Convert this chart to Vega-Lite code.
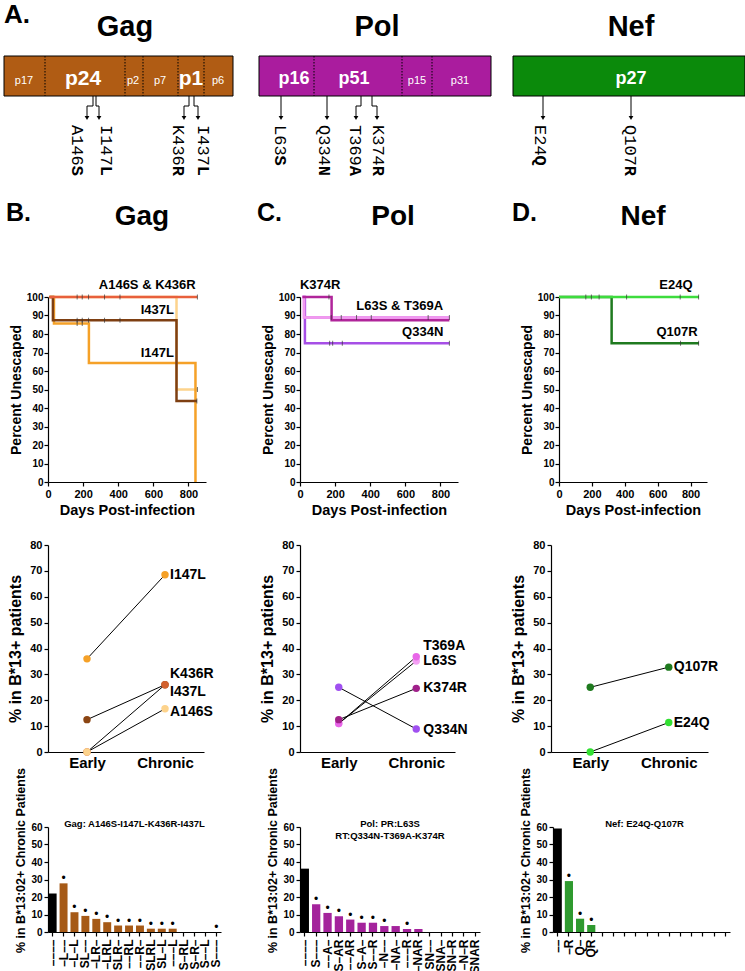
{
"$schema": "https://vega.github.io/schema/vega-lite/v6.json",
"padding": {"left": 3, "top": 0, "right": 0, "bottom": 0},
"config": {
  "view": {"stroke": null},
  "font": "Liberation Sans",
  "axis": {"domainColor": "black", "tickColor": "black", "labelColor": "black", "titleColor": "black", "labelFont": "Liberation Sans", "titleFont": "Liberation Sans", "labelFontWeight": "bold", "titleFontWeight": "bold", "grid": false, "tickSize": 4, "labelPadding": 2, "domainWidth": 1.2, "tickWidth": 1.2, "labelOverlap": false}
},
"datasets": {
  "schem": [{"protein": "Gag", "start": 0, "end": 229}, {"protein": "Pol", "start": 255, "end": 487}, {"protein": "Nef", "start": 509, "end": 741}],
  "divs": [{"pos": 41}, {"pos": 121}, {"pos": 139}, {"pos": 174}, {"pos": 200}, {"pos": 310}, {"pos": 398}, {"pos": 428}],
  "regions": [
    {"protein": "Gag", "region": "p17", "center": 20, "major": false},
    {"protein": "Gag", "region": "p24", "center": 79, "major": true},
    {"protein": "Gag", "region": "p2", "center": 129, "major": false},
    {"protein": "Gag", "region": "p7", "center": 156, "major": false},
    {"protein": "Gag", "region": "p1", "center": 187, "major": true},
    {"protein": "Gag", "region": "p6", "center": 214, "major": false},
    {"protein": "Pol", "region": "p16", "center": 290, "major": true},
    {"protein": "Pol", "region": "p51", "center": 350, "major": true},
    {"protein": "Pol", "region": "p15", "center": 413, "major": false},
    {"protein": "Pol", "region": "p31", "center": 456, "major": false},
    {"protein": "Nef", "region": "p27", "center": 627, "major": true}
  ],
  "headers": [
    {"text": "A.", "x": 0, "kind": "Aletter"},
    {"text": "Gag", "x": 121, "kind": "Aname"},
    {"text": "Pol", "x": 373, "kind": "Aname"},
    {"text": "Nef", "x": 627, "kind": "Aname"},
    {"text": "B.", "x": 2, "kind": "Bletter"},
    {"text": "Gag", "x": 138, "kind": "Bname"},
    {"text": "C.", "x": 253, "kind": "Bletter"},
    {"text": "Pol", "x": 389, "kind": "Bname"},
    {"text": "D.", "x": 508, "kind": "Bletter"},
    {"text": "Nef", "x": 639, "kind": "Bname"}
  ],
  "arrows": [
    {"x1": 89, "x2": 89, "y1": 96, "y2": 106}, {"x1": 89, "x2": 83, "y1": 106, "y2": 106}, {"x1": 83, "x2": 83, "y1": 106, "y2": 116},
    {"x1": 92, "x2": 92, "y1": 96, "y2": 106}, {"x1": 92, "x2": 95, "y1": 106, "y2": 106}, {"x1": 95, "x2": 95, "y1": 106, "y2": 116},
    {"x1": 185, "x2": 185, "y1": 96, "y2": 106}, {"x1": 185, "x2": 180, "y1": 106, "y2": 106}, {"x1": 180, "x2": 180, "y1": 106, "y2": 116},
    {"x1": 190, "x2": 190, "y1": 96, "y2": 106}, {"x1": 190, "x2": 194, "y1": 106, "y2": 106}, {"x1": 194, "x2": 194, "y1": 106, "y2": 116},
    {"x1": 277, "x2": 277, "y1": 96, "y2": 116},
    {"x1": 323, "x2": 323, "y1": 96, "y2": 116},
    {"x1": 357, "x2": 357, "y1": 96, "y2": 106}, {"x1": 357, "x2": 352, "y1": 106, "y2": 106}, {"x1": 352, "x2": 352, "y1": 106, "y2": 116},
    {"x1": 368, "x2": 368, "y1": 96, "y2": 106}, {"x1": 368, "x2": 373, "y1": 106, "y2": 106}, {"x1": 373, "x2": 373, "y1": 106, "y2": 116},
    {"x1": 539, "x2": 539, "y1": 96, "y2": 116},
    {"x1": 627, "x2": 627, "y1": 96, "y2": 116}
  ],
  "tips": [{"x": 83}, {"x": 95}, {"x": 180}, {"x": 194}, {"x": 277}, {"x": 323}, {"x": 352}, {"x": 373}, {"x": 539}, {"x": 627}],
  "mutlab": [
    {"pre": "A146", "suf": "S", "plen": 4, "x": 73},
    {"pre": "I147", "suf": "L", "plen": 4, "x": 102},
    {"pre": "K436", "suf": "R", "plen": 4, "x": 174},
    {"pre": "I437", "suf": "L", "plen": 4, "x": 199},
    {"pre": "L63", "suf": "S", "plen": 3, "x": 276},
    {"pre": "Q334", "suf": "N", "plen": 4, "x": 320},
    {"pre": "T369", "suf": "A", "plen": 4, "x": 351},
    {"pre": "K374", "suf": "R", "plen": 4, "x": 374},
    {"pre": "E24", "suf": "Q", "plen": 3, "x": 536},
    {"pre": "Q107", "suf": "R", "plen": 4, "x": 626}
  ],
  "survGag": [
    {"mut": "A146S", "day": 8, "pct": 100}, {"mut": "A146S", "day": 732, "pct": 50}, {"mut": "A146S", "day": 851, "pct": 50},
    {"mut": "I147L", "day": 8, "pct": 100}, {"mut": "I147L", "day": 34, "pct": 85.7}, {"mut": "I147L", "day": 233, "pct": 64.3}, {"mut": "I147L", "day": 840, "pct": 0},
    {"mut": "I437L", "day": 8, "pct": 100}, {"mut": "I437L", "day": 28, "pct": 87.5}, {"mut": "I437L", "day": 732, "pct": 43.8}, {"mut": "I437L", "day": 848, "pct": 43.8},
    {"mut": "K436R", "day": 8, "pct": 100}, {"mut": "K436R", "day": 851, "pct": 100}
  ],
  "censGag": [
    {"day": 166, "pct": 100}, {"day": 195, "pct": 100}, {"day": 231, "pct": 100}, {"day": 322, "pct": 100}, {"day": 410, "pct": 100}, {"day": 851, "pct": 100},
    {"day": 166, "pct": 87.5}, {"day": 195, "pct": 87.5}, {"day": 231, "pct": 87.5}, {"day": 322, "pct": 87.5}, {"day": 410, "pct": 87.5},
    {"day": 166, "pct": 85.7}, {"day": 195, "pct": 85.7},
    {"day": 851, "pct": 50}, {"day": 848, "pct": 43.8}
  ],
  "annGag": [{"label": "A146S & K436R", "day": 565, "pct": 106.5}, {"label": "I437L", "day": 623, "pct": 93}, {"label": "I147L", "day": 623, "pct": 69.7}],
  "survPol": [
    {"mut": "Q334N", "day": 14, "pct": 100}, {"mut": "Q334N", "day": 28, "pct": 75}, {"mut": "Q334N", "day": 851, "pct": 75},
    {"mut": "T369A", "day": 14, "pct": 100}, {"mut": "T369A", "day": 23, "pct": 88.9}, {"mut": "T369A", "day": 851, "pct": 88.9},
    {"mut": "L63S", "day": 14, "pct": 100}, {"mut": "L63S", "day": 23, "pct": 88.9}, {"mut": "L63S", "day": 851, "pct": 88.9},
    {"mut": "K374R", "day": 14, "pct": 100}, {"mut": "K374R", "day": 180, "pct": 87.5}, {"mut": "K374R", "day": 851, "pct": 87.5}
  ],
  "censPol": [
    {"day": 165, "pct": 100},
    {"day": 178, "pct": 88.9}, {"day": 235, "pct": 88.9}, {"day": 322, "pct": 88.9}, {"day": 406, "pct": 88.9}, {"day": 730, "pct": 88.9}, {"day": 851, "pct": 88.9},
    {"day": 169, "pct": 75}, {"day": 186, "pct": 75}, {"day": 241, "pct": 75}, {"day": 851, "pct": 75}
  ],
  "annPol": [{"label": "K374R", "day": 115, "pct": 106.5}, {"label": "L63S & T369A", "day": 568, "pct": 95}, {"label": "Q334N", "day": 699, "pct": 81}],
  "survNef": [
    {"mut": "Q107R", "day": 0, "pct": 100}, {"mut": "Q107R", "day": 320, "pct": 75}, {"mut": "Q107R", "day": 851, "pct": 75},
    {"mut": "E24Q", "day": 0, "pct": 100}, {"mut": "E24Q", "day": 851, "pct": 100}
  ],
  "censNef": [
    {"day": 163, "pct": 100}, {"day": 197, "pct": 100}, {"day": 244, "pct": 100}, {"day": 411, "pct": 100}, {"day": 737, "pct": 100}, {"day": 849, "pct": 100},
    {"day": 739, "pct": 75}, {"day": 849, "pct": 75}
  ],
  "annNef": [{"label": "E24Q", "day": 711, "pct": 106.5}, {"label": "Q107R", "day": 718, "pct": 81}],
  "dotGag": [
    {"mut": "I147L", "stage": "Early", "pct": 36}, {"mut": "I147L", "stage": "Chronic", "pct": 68.5},
    {"mut": "I437L", "stage": "Early", "pct": 12.5}, {"mut": "I437L", "stage": "Chronic", "pct": 26},
    {"mut": "K436R", "stage": "Early", "pct": 0}, {"mut": "K436R", "stage": "Chronic", "pct": 26},
    {"mut": "A146S", "stage": "Early", "pct": 0}, {"mut": "A146S", "stage": "Chronic", "pct": 16.7}
  ],
  "dotLabGag": [
    {"label": "I147L", "stage": "Chronic", "pct": 68.5}, {"label": "K436R", "stage": "Chronic", "pct": 30},
    {"label": "I437L", "stage": "Chronic", "pct": 23}, {"label": "A146S", "stage": "Chronic", "pct": 15.3}
  ],
  "dotPol": [
    {"mut": "Q334N", "stage": "Early", "pct": 25}, {"mut": "Q334N", "stage": "Chronic", "pct": 8.9},
    {"mut": "L63S", "stage": "Early", "pct": 11}, {"mut": "L63S", "stage": "Chronic", "pct": 35.2},
    {"mut": "T369A", "stage": "Early", "pct": 11}, {"mut": "T369A", "stage": "Chronic", "pct": 36.8},
    {"mut": "K374R", "stage": "Early", "pct": 12.5}, {"mut": "K374R", "stage": "Chronic", "pct": 24.6}
  ],
  "dotLabPol": [
    {"label": "T369A", "stage": "Chronic", "pct": 40.9}, {"label": "L63S", "stage": "Chronic", "pct": 35.3},
    {"label": "K374R", "stage": "Chronic", "pct": 24.7}, {"label": "Q334N", "stage": "Chronic", "pct": 8.5}
  ],
  "dotNef": [
    {"mut": "Q107R", "stage": "Early", "pct": 25}, {"mut": "Q107R", "stage": "Chronic", "pct": 32.8},
    {"mut": "E24Q", "stage": "Early", "pct": 0}, {"mut": "E24Q", "stage": "Chronic", "pct": 11.4}
  ],
  "dotLabNef": [{"label": "Q107R", "stage": "Chronic", "pct": 32.8}, {"label": "E24Q", "stage": "Chronic", "pct": 11.4}],
  "barGag": [
    {"hap": "––––", "pct": 22, "sig": false}, {"hap": "–L––", "pct": 27.8, "sig": true}, {"hap": "–L–L", "pct": 11.3, "sig": true}, {"hap": "SL––", "pct": 9.2, "sig": true},
    {"hap": "–LR–", "pct": 7.5, "sig": true}, {"hap": "–LRL", "pct": 5.6, "sig": true}, {"hap": "SLR–", "pct": 3.7, "sig": true}, {"hap": "––RL", "pct": 3.7, "sig": true},
    {"hap": "––R–", "pct": 3.7, "sig": true}, {"hap": "SLRL", "pct": 1.9, "sig": true}, {"hap": "SL–L", "pct": 1.9, "sig": true}, {"hap": "–––L", "pct": 1.9, "sig": true},
    {"hap": "S–RL", "pct": 0, "sig": false}, {"hap": "S–R–", "pct": 0, "sig": false}, {"hap": "S––L", "pct": 0, "sig": false}, {"hap": "S–––", "pct": 0, "sig": true}
  ],
  "barPol": [
    {"hap": "––––", "pct": 36.2, "sig": false}, {"hap": "S–––", "pct": 15.9, "sig": true}, {"hap": "––A–", "pct": 10.9, "sig": true}, {"hap": "S–AR", "pct": 9.0, "sig": true},
    {"hap": "––AR", "pct": 7.1, "sig": true}, {"hap": "S–A–", "pct": 5.3, "sig": true}, {"hap": "S––R", "pct": 5.3, "sig": true}, {"hap": "–N––", "pct": 3.4, "sig": true},
    {"hap": "–NA–", "pct": 3.4, "sig": false}, {"hap": "–––R", "pct": 1.7, "sig": true}, {"hap": "–NAR", "pct": 1.7, "sig": false}, {"hap": "SN––", "pct": 0, "sig": false},
    {"hap": "SNA–", "pct": 0, "sig": false}, {"hap": "SN–R", "pct": 0, "sig": false}, {"hap": "–N–R", "pct": 0, "sig": false}, {"hap": "SNAR", "pct": 0, "sig": false}
  ],
  "barNef": [
    {"hap": "––", "pct": 59.2, "sig": false}, {"hap": "–R", "pct": 29.1, "sig": true}, {"hap": "Q–", "pct": 7.6, "sig": true}, {"hap": "QR", "pct": 4.0, "sig": true}
  ]
},
"vconcat": [
  {
    "width": 698, "height": 240,
    "layer": [
      {"data": {"name": "schem"}, "mark": {"type": "rect", "stroke": "black", "strokeWidth": 1},
       "encoding": {
         "x": {"field": "start", "type": "quantitative", "scale": {"domain": [44, 742], "nice": false, "zero": false}, "axis": null},
         "x2": {"field": "end"},
         "y": {"datum": 56, "type": "quantitative", "scale": {"domain": [0, 240], "reverse": true, "nice": false, "zero": false}, "axis": null},
         "y2": {"datum": 96},
         "color": {"field": "protein", "type": "nominal", "scale": {"domain": ["Gag", "Pol", "Nef"], "range": ["#B05C14", "#AA1C9E", "#0B8A0B"]}, "legend": null}}},
      {"data": {"name": "divs"}, "mark": {"type": "rule", "strokeDash": [1.5, 1.5], "strokeWidth": 1, "color": "black"},
       "encoding": {"x": {"field": "pos", "type": "quantitative"}, "y": {"datum": 56, "type": "quantitative"}, "y2": {"datum": 96}}},
      {"data": {"name": "regions"}, "transform": [{"filter": "datum.major && datum.protein == 'Gag'"}],
       "mark": {"type": "text", "color": "white", "fontWeight": "bold", "fontSize": 21, "baseline": "alphabetic"},
       "encoding": {"x": {"field": "center", "type": "quantitative"}, "y": {"datum": 85, "type": "quantitative"}, "text": {"field": "region"}}},
      {"data": {"name": "regions"}, "transform": [{"filter": "datum.major && datum.protein != 'Gag'"}],
       "mark": {"type": "text", "color": "white", "fontWeight": "bold", "fontSize": 18, "baseline": "alphabetic"},
       "encoding": {"x": {"field": "center", "type": "quantitative"}, "y": {"datum": 84, "type": "quantitative"}, "text": {"field": "region"}}},
      {"data": {"name": "regions"}, "transform": [{"filter": "!datum.major"}],
       "mark": {"type": "text", "color": "white", "fontSize": 11, "baseline": "alphabetic"},
       "encoding": {"x": {"field": "center", "type": "quantitative"}, "y": {"datum": 84, "type": "quantitative"}, "text": {"field": "region"}}},
      {"data": {"name": "headers"}, "transform": [{"filter": "datum.kind == 'Aletter'"}],
       "mark": {"type": "text", "fontWeight": "bold", "fontSize": 26, "align": "left", "baseline": "alphabetic"},
       "encoding": {"x": {"field": "x", "type": "quantitative"}, "y": {"datum": 23, "type": "quantitative"}, "text": {"field": "text"}}},
      {"data": {"name": "headers"}, "transform": [{"filter": "datum.kind == 'Aname'"}],
       "mark": {"type": "text", "fontWeight": "bold", "fontSize": 29, "align": "center", "baseline": "alphabetic"},
       "encoding": {"x": {"field": "x", "type": "quantitative"}, "y": {"datum": 36, "type": "quantitative"}, "text": {"field": "text"}}},
      {"data": {"name": "headers"}, "transform": [{"filter": "datum.kind == 'Bletter'"}],
       "mark": {"type": "text", "fontWeight": "bold", "fontSize": 25, "align": "left", "baseline": "alphabetic"},
       "encoding": {"x": {"field": "x", "type": "quantitative"}, "y": {"datum": 221, "type": "quantitative"}, "text": {"field": "text"}}},
      {"data": {"name": "headers"}, "transform": [{"filter": "datum.kind == 'Bname'"}],
       "mark": {"type": "text", "fontWeight": "bold", "fontSize": 28, "align": "center", "baseline": "alphabetic"},
       "encoding": {"x": {"field": "x", "type": "quantitative"}, "y": {"datum": 225, "type": "quantitative"}, "text": {"field": "text"}}},
      {"data": {"name": "arrows"}, "mark": {"type": "rule", "color": "black", "strokeWidth": 1},
       "encoding": {"x": {"field": "x1", "type": "quantitative"}, "x2": {"field": "x2"}, "y": {"field": "y1", "type": "quantitative"}, "y2": {"field": "y2"}}},
      {"data": {"name": "tips"}, "mark": {"type": "point", "shape": "triangle-down", "filled": true, "color": "black", "size": 22, "opacity": 1},
       "encoding": {"x": {"field": "x", "type": "quantitative"}, "y": {"datum": 118, "type": "quantitative"}}},
      {"data": {"name": "mutlab"}, "mark": {"type": "text", "angle": 90, "align": "left", "baseline": "middle", "font": "Liberation Mono", "fontSize": 17, "color": "black"},
       "encoding": {"x": {"field": "x", "type": "quantitative"}, "y": {"datum": 125, "type": "quantitative"}, "text": {"field": "pre"}}},
      {"data": {"name": "mutlab"}, "transform": [{"filter": "datum.plen == 4"}],
       "mark": {"type": "text", "angle": 90, "align": "left", "baseline": "middle", "font": "Liberation Mono", "fontSize": 17, "fontWeight": "bold", "color": "black", "dx": 40.8},
       "encoding": {"x": {"field": "x", "type": "quantitative"}, "y": {"datum": 125, "type": "quantitative"}, "text": {"field": "suf"}}},
      {"data": {"name": "mutlab"}, "transform": [{"filter": "datum.plen == 3"}],
       "mark": {"type": "text", "angle": 90, "align": "left", "baseline": "middle", "font": "Liberation Mono", "fontSize": 17, "fontWeight": "bold", "color": "black", "dx": 30.6},
       "encoding": {"x": {"field": "x", "type": "quantitative"}, "y": {"datum": 125, "type": "quantitative"}, "text": {"field": "suf"}}}
    ]
  },
  {
    "columns": 3,
    "spacing": {"row": 63, "column": 79},
    "bounds": "flush",
    "resolve": {"scale": {"color": "independent", "x": "independent", "y": "independent"}},
    "concat": [
      {
        "width": 158, "height": 185,
        "encoding": {
          "x": {"field": "day", "type": "quantitative", "scale": {"domain": [0, 900], "nice": false}, "axis": {"values": [0, 200, 400, 600, 800], "title": "Days Post-infection", "titleFontSize": 14.5, "labelFontSize": 11, "labelFlush": false, "titlePadding": 4}},
          "y": {"field": "pct", "type": "quantitative", "scale": {"domain": [0, 100], "nice": false}, "axis": {"values": [0, 10, 20, 30, 40, 50, 60, 70, 80, 90, 100], "title": "Percent Unescaped", "titleFontSize": 14, "labelFontSize": 10, "titlePadding": 3, "labelPadding": 1}}
        },
        "layer": [
          {"data": {"name": "survGag"}, "mark": {"type": "line", "interpolate": "step-after", "strokeWidth": 2.5},
           "encoding": {"color": {"field": "mut", "type": "nominal", "scale": {"domain": ["A146S", "I147L", "I437L", "K436R"], "range": ["#FDD38C", "#F5A128", "#7E3F12", "#E8603C"]}, "legend": null}}},
          {"data": {"name": "censGag"}, "mark": {"type": "tick", "orient": "vertical", "size": 5, "thickness": 1, "color": "#333"}},
          {"data": {"name": "annGag"}, "mark": {"type": "text", "fontWeight": "bold", "fontSize": 13, "baseline": "middle"},
           "encoding": {"text": {"field": "label"}}}
        ]
      },
      {
        "width": 158, "height": 185,
        "encoding": {
          "x": {"field": "day", "type": "quantitative", "scale": {"domain": [0, 900], "nice": false}, "axis": {"values": [0, 200, 400, 600, 800], "title": "Days Post-infection", "titleFontSize": 14.5, "labelFontSize": 11, "labelFlush": false, "titlePadding": 4}},
          "y": {"field": "pct", "type": "quantitative", "scale": {"domain": [0, 100], "nice": false}, "axis": {"values": [0, 10, 20, 30, 40, 50, 60, 70, 80, 90, 100], "title": "Percent Unescaped", "titleFontSize": 14, "labelFontSize": 10, "titlePadding": 3, "labelPadding": 1}}
        },
        "layer": [
          {"data": {"name": "survPol"}, "mark": {"type": "line", "interpolate": "step-after", "strokeWidth": 2.5},
           "encoding": {"color": {"field": "mut", "type": "nominal", "scale": {"domain": ["Q334N", "T369A", "L63S", "K374R"], "range": ["#A64FE6", "#E46AE4", "#F09AF0", "#B0259A"]}, "legend": null}}},
          {"data": {"name": "censPol"}, "mark": {"type": "tick", "orient": "vertical", "size": 5, "thickness": 1, "color": "#333"}},
          {"data": {"name": "annPol"}, "mark": {"type": "text", "fontWeight": "bold", "fontSize": 13, "baseline": "middle"},
           "encoding": {"text": {"field": "label"}}}
        ]
      },
      {
        "width": 148, "height": 185,
        "encoding": {
          "x": {"field": "day", "type": "quantitative", "scale": {"domain": [0, 900], "nice": false}, "axis": {"values": [0, 200, 400, 600, 800], "title": "Days Post-infection", "titleFontSize": 14.5, "labelFontSize": 11, "labelFlush": false, "titlePadding": 4}},
          "y": {"field": "pct", "type": "quantitative", "scale": {"domain": [0, 100], "nice": false}, "axis": {"values": [0, 10, 20, 30, 40, 50, 60, 70, 80, 90, 100], "title": "Percent Unescaped", "titleFontSize": 14, "labelFontSize": 10, "titlePadding": 3, "labelPadding": 1}}
        },
        "layer": [
          {"data": {"name": "survNef"}, "mark": {"type": "line", "interpolate": "step-after", "strokeWidth": 2.5},
           "encoding": {"color": {"field": "mut", "type": "nominal", "scale": {"domain": ["Q107R", "E24Q"], "range": ["#1F7A1F", "#3DDC3D"]}, "legend": null}}},
          {"data": {"name": "censNef"}, "mark": {"type": "tick", "orient": "vertical", "size": 5, "thickness": 1, "color": "#333"}},
          {"data": {"name": "annNef"}, "mark": {"type": "text", "fontWeight": "bold", "fontSize": 13, "baseline": "middle"},
           "encoding": {"text": {"field": "label"}}}
        ]
      },
      {
        "width": 156, "height": 207,
        "encoding": {
          "x": {"field": "stage", "type": "ordinal", "scale": {"type": "point", "domain": ["Early", "Chronic"], "padding": 0.5}, "axis": {"title": null, "labelAngle": 0, "ticks": false, "labelFontSize": 15, "labelPadding": 3}},
          "y": {"field": "pct", "type": "quantitative", "scale": {"domain": [0, 80], "nice": false}, "axis": {"values": [0, 10, 20, 30, 40, 50, 60, 70, 80], "title": "% in B*13+ patients", "titleFontSize": 16, "labelFontSize": 11, "titlePadding": 6}}
        },
        "layer": [
          {"data": {"name": "dotGag"}, "mark": {"type": "line", "color": "black", "strokeWidth": 1}, "encoding": {"detail": {"field": "mut"}}},
          {"data": {"name": "dotGag"}, "mark": {"type": "circle", "size": 55, "opacity": 1},
           "encoding": {"color": {"field": "mut", "type": "nominal", "scale": {"domain": ["I147L", "I437L", "K436R", "A146S"], "range": ["#F5A128", "#8B4513", "#D2602E", "#FDD38C"]}, "legend": null}}},
          {"data": {"name": "dotLabGag"}, "mark": {"type": "text", "align": "left", "dx": 5, "fontWeight": "bold", "fontSize": 14, "baseline": "middle"},
           "encoding": {"text": {"field": "label"}}}
        ]
      },
      {
        "width": 155, "height": 207,
        "encoding": {
          "x": {"field": "stage", "type": "ordinal", "scale": {"type": "point", "domain": ["Early", "Chronic"], "padding": 0.5}, "axis": {"title": null, "labelAngle": 0, "ticks": false, "labelFontSize": 15, "labelPadding": 3}},
          "y": {"field": "pct", "type": "quantitative", "scale": {"domain": [0, 80], "nice": false}, "axis": {"values": [0, 10, 20, 30, 40, 50, 60, 70, 80], "title": "% in B*13+ patients", "titleFontSize": 16, "labelFontSize": 11, "titlePadding": 6}}
        },
        "layer": [
          {"data": {"name": "dotPol"}, "mark": {"type": "line", "color": "black", "strokeWidth": 1}, "encoding": {"detail": {"field": "mut"}}},
          {"data": {"name": "dotPol"}, "mark": {"type": "circle", "size": 55, "opacity": 1},
           "encoding": {"color": {"field": "mut", "type": "nominal", "scale": {"domain": ["Q334N", "L63S", "T369A", "K374R"], "range": ["#A050F0", "#F4A0F4", "#E866E8", "#A0208A"]}, "legend": null}}},
          {"data": {"name": "dotLabPol"}, "mark": {"type": "text", "align": "left", "dx": 7, "fontWeight": "bold", "fontSize": 14, "baseline": "middle"},
           "encoding": {"text": {"field": "label"}}}
        ]
      },
      {
        "width": 149, "height": 207,
        "encoding": {
          "x": {"field": "stage", "type": "ordinal", "scale": {"type": "point", "domain": ["Early", "Chronic"], "padding": 0.5, "range": [-8, 149]}, "axis": {"title": null, "labelAngle": 0, "ticks": false, "labelFontSize": 15, "labelPadding": 3}},
          "y": {"field": "pct", "type": "quantitative", "scale": {"domain": [0, 80], "nice": false}, "axis": {"values": [0, 10, 20, 30, 40, 50, 60, 70, 80], "title": "% in B*13+ patients", "titleFontSize": 16, "labelFontSize": 11, "titlePadding": 6, "offset": 8}}
        },
        "layer": [
          {"data": {"name": "dotNef"}, "mark": {"type": "line", "color": "black", "strokeWidth": 1}, "encoding": {"detail": {"field": "mut"}}},
          {"data": {"name": "dotNef"}, "mark": {"type": "circle", "size": 55, "opacity": 1},
           "encoding": {"color": {"field": "mut", "type": "nominal", "scale": {"domain": ["Q107R", "E24Q"], "range": ["#1F7A1F", "#33E033"]}, "legend": null}}},
          {"data": {"name": "dotLabNef"}, "mark": {"type": "text", "align": "left", "dx": 5, "fontWeight": "bold", "fontSize": 14, "baseline": "middle"},
           "encoding": {"text": {"field": "label"}}}
        ]
      },
      {
        "width": 173, "height": 117,
        "title": {"text": "Gag: A146S-I147L-K436R-I437L", "fontSize": 9.5, "fontWeight": "bold", "baseline": "top", "offset": -61, "anchor": "middle"},
        "encoding": {
          "x": {"field": "hap", "type": "nominal", "scale": {"domain": ["––––", "–L––", "–L–L", "SL––", "–LR–", "–LRL", "SLR–", "––RL", "––R–", "SLRL", "SL–L", "–––L", "S–RL", "S–R–", "S––L", "S–––"], "paddingInner": 0.27, "paddingOuter": 0.06}, "axis": {"title": null, "labelAngle": 270, "labelFontSize": 12, "labelPadding": 3}},
          "y": {"field": "pct", "type": "quantitative", "scale": {"domain": [0, 60], "nice": false, "range": [117, 12]}, "axis": {"values": [0, 10, 20, 30, 40, 50, 60], "title": "% in B*13:02+ Chronic Patients", "titleFontSize": 12.5, "labelFontSize": 10, "titlePadding": 3, "titleY": 45}}
        },
        "layer": [
          {"data": {"name": "barGag"}, "mark": {"type": "bar"},
           "encoding": {"color": {"condition": {"test": "datum.hap == '––––'", "value": "black"}, "value": "#A65A17"}}},
          {"data": {"name": "barGag"}, "transform": [{"filter": "datum.sig"}], "mark": {"type": "text", "text": "•", "fontSize": 12, "baseline": "alphabetic", "dy": -1, "color": "black"}}
        ]
      },
      {
        "width": 180, "height": 117,
        "title": {"text": ["Pol: PR:L63S", "RT:Q334N-T369A-K374R"], "fontSize": 9.5, "fontWeight": "bold", "baseline": "top", "offset": -73, "anchor": "middle", "lineHeight": 12},
        "encoding": {
          "x": {"field": "hap", "type": "nominal", "scale": {"domain": ["––––", "S–––", "––A–", "S–AR", "––AR", "S–A–", "S––R", "–N––", "–NA–", "–––R", "–NAR", "SN––", "SNA–", "SN–R", "–N–R", "SNAR"], "paddingInner": 0.27, "paddingOuter": 0.06}, "axis": {"title": null, "labelAngle": 270, "labelFontSize": 12, "labelPadding": 3}},
          "y": {"field": "pct", "type": "quantitative", "scale": {"domain": [0, 60], "nice": false, "range": [117, 12]}, "axis": {"values": [0, 10, 20, 30, 40, 50, 60], "title": "% in B*13:02+ Chronic Patients", "titleFontSize": 12.5, "labelFontSize": 10, "titlePadding": 3, "titleY": 45}}
        },
        "layer": [
          {"data": {"name": "barPol"}, "mark": {"type": "bar"},
           "encoding": {"color": {"condition": {"test": "datum.hap == '––––'", "value": "black"}, "value": "#A4239C"}}},
          {"data": {"name": "barPol"}, "transform": [{"filter": "datum.sig"}], "mark": {"type": "text", "text": "•", "fontSize": 12, "baseline": "alphabetic", "dy": -1, "color": "black"}}
        ]
      },
      {
        "width": 171, "height": 117,
        "title": {"text": "Nef: E24Q-Q107R", "fontSize": 9.5, "fontWeight": "bold", "baseline": "top", "offset": -61, "anchor": "middle"},
        "encoding": {
          "x": {"field": "hap", "type": "nominal", "scale": {"domain": ["––", "–R", "Q–", "QR", "e5", "e6", "e7", "e8", "e9", "e10", "e11", "e12", "e13", "e14", "e15", "e16"], "paddingInner": 0.27, "paddingOuter": 0.06, "range": [-6, 171]}, "axis": {"title": null, "labelAngle": 270, "labelFontSize": 12, "labelPadding": 3, "labelExpr": "indexof(datum.label, 'e') == 0 ? '' : datum.label"}},
          "y": {"field": "pct", "type": "quantitative", "scale": {"domain": [0, 60], "nice": false, "range": [117, 12]}, "axis": {"values": [0, 10, 20, 30, 40, 50, 60], "title": "% in B*13:02+ Chronic Patients", "titleFontSize": 12.5, "labelFontSize": 10, "titlePadding": 3, "offset": 6, "titleY": 45}}
        },
        "layer": [
          {"data": {"name": "barNef"}, "mark": {"type": "bar"},
           "encoding": {"color": {"condition": {"test": "datum.hap == '––'", "value": "black"}, "value": "#2F9A2F"}}},
          {"data": {"name": "barNef"}, "transform": [{"filter": "datum.sig"}], "mark": {"type": "text", "text": "•", "fontSize": 12, "baseline": "alphabetic", "dy": -1, "color": "black"}}
        ]
      }
    ]
  }
],
"spacing": 57,
"bounds": "flush",
"resolve": {"scale": {"color": "independent", "x": "independent", "y": "independent"}}
}
